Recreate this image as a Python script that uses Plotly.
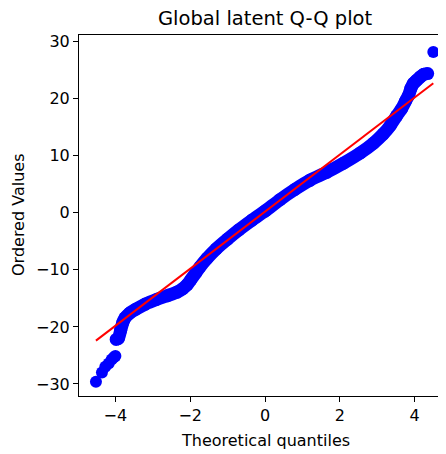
import plotly.graph_objects as go

# Lower-tail isolated points (theoretical quantile, ordered value)
tail_low_q = [-4.52, -4.36, -4.27, -4.18, -4.10, -4.04, -4.00]
tail_low_v = [-29.6, -28.0, -27.0, -26.4, -25.7, -25.3, -25.1]

# Main dense body of the Q-Q curve
body_q = [-3.98, -3.92, -3.86, -3.80, -3.74, -3.62, -3.45, -3.20, -2.90, -2.60, -2.35,
          -2.20, -2.08, -1.98, -1.86, -1.74, -1.55, -1.30, -1.00, -0.70, -0.35, 0.00,
          0.40, 0.80, 1.20, 1.65, 2.10, 2.55, 2.90, 3.16, 3.35, 3.52, 3.65, 3.76,
          3.84, 3.90, 3.97, 4.05, 4.15, 4.25, 4.35]
body_v = [-22.2, -22.0, -20.6, -19.2, -18.4, -17.6, -16.9, -16.0, -15.2, -14.5, -13.9,
          -13.3, -12.6, -11.7, -10.6, -9.5, -8.0, -6.3, -4.6, -3.0, -1.3, 0.3,
          2.3, 4.1, 5.7, 7.1, 8.7, 10.5, 12.2, 13.8, 15.3, 17.0, 18.2, 19.6,
          20.6, 21.8, 22.7, 23.2, 23.8, 24.3, 24.4]

# Upper-tail isolated point
tail_high_q = [4.50]
tail_high_v = [28.2]

# Least-squares reference line endpoints
line_q = [-4.52, 4.50]
line_v = [-22.4, 22.7]

x_ticks = [-4, -2, 0, 2, 4]
x_tick_text = ["\u22124", "\u22122", "0", "2", "4"]
y_ticks = [-30, -20, -10, 0, 10, 20, 30]
y_tick_text = ["\u221230", "\u221220", "\u221210", "0", "10", "20", "30"]

BLUE = "#0000ff"
RED = "#ff0000"
FONT = "DejaVu Sans"
TICK_SIZE = 16
LABEL_SIZE = 16
TITLE_SIZE = 19.5

fig = go.Figure()
fig.add_trace(go.Scatter(x=tail_low_q, y=tail_low_v, mode="markers",
                         marker=dict(color=BLUE, size=12, line=dict(width=0)),
                         showlegend=False, hoverinfo="skip"))
fig.add_trace(go.Scatter(x=body_q, y=body_v, mode="lines+markers",
                         line=dict(color=BLUE, width=13, shape="spline", smoothing=0.6),
                         marker=dict(color=BLUE, size=13, line=dict(width=0)),
                         showlegend=False, hoverinfo="skip"))
fig.add_trace(go.Scatter(x=tail_high_q, y=tail_high_v, mode="markers",
                         marker=dict(color=BLUE, size=12, line=dict(width=0)),
                         showlegend=False, hoverinfo="skip"))
fig.add_trace(go.Scatter(x=line_q, y=line_v, mode="lines",
                         line=dict(color=RED, width=2),
                         showlegend=False, hoverinfo="skip"))

OFF = 8  # page body margin
W, H = 446 - OFF, 454 - OFF
L = 79 - OFF
T = 35 - OFF
B = H - (396 - OFF)
pw, ph = W - L, H - T - B
x0, scale_x = 265.0 - OFF, 37.4
y0, scale_y = 212.8 - OFF, 5.705
xr = [(L - x0) / scale_x, (W - x0) / scale_x]
yr = [(y0 - (H - B)) / scale_y, (y0 - T) / scale_y]


def px(sx):
    return (sx - OFF - L) / pw


def py(sy):
    return 1 - (sy - OFF - T) / ph


fig.update_layout(
    width=W, height=H,
    margin=dict(l=L, r=0, t=T, b=B, pad=0),
    paper_bgcolor="white", plot_bgcolor="white",
    font=dict(family=FONT, size=TICK_SIZE, color="black"),
    xaxis=dict(range=xr, showgrid=False, zeroline=False, showline=True, mirror=True,
               linecolor="black", linewidth=1, ticks="outside", ticklen=5, tickwidth=1,
               tickcolor="black", tickvals=x_ticks, ticktext=x_tick_text,
               tickfont=dict(family=FONT, size=TICK_SIZE, color="black")),
    yaxis=dict(range=yr, showgrid=False, zeroline=False, showline=True, mirror=False,
               linecolor="black", linewidth=1, ticks="outside", ticklen=5, tickwidth=1,
               tickcolor="black", tickvals=y_ticks, ticktext=y_tick_text,
               tickfont=dict(family=FONT, size=TICK_SIZE, color="black")),
    annotations=[
        dict(text="Global latent Q-Q plot", xref="paper", yref="paper",
             x=px(265), y=py(19), xanchor="center", yanchor="middle",
             showarrow=False, font=dict(family=FONT, size=TITLE_SIZE, color="black")),
        dict(text="Theoretical quantiles", xref="paper", yref="paper",
             x=px(265), y=py(440), xanchor="center", yanchor="middle",
             showarrow=False, font=dict(family=FONT, size=LABEL_SIZE, color="black")),
        dict(text="Ordered Values", xref="paper", yref="paper", textangle=-90,
             x=px(18), y=py(215), xanchor="center", yanchor="middle",
             showarrow=False, font=dict(family=FONT, size=LABEL_SIZE, color="black")),
    ],
)

fig.write_html("out.html")
